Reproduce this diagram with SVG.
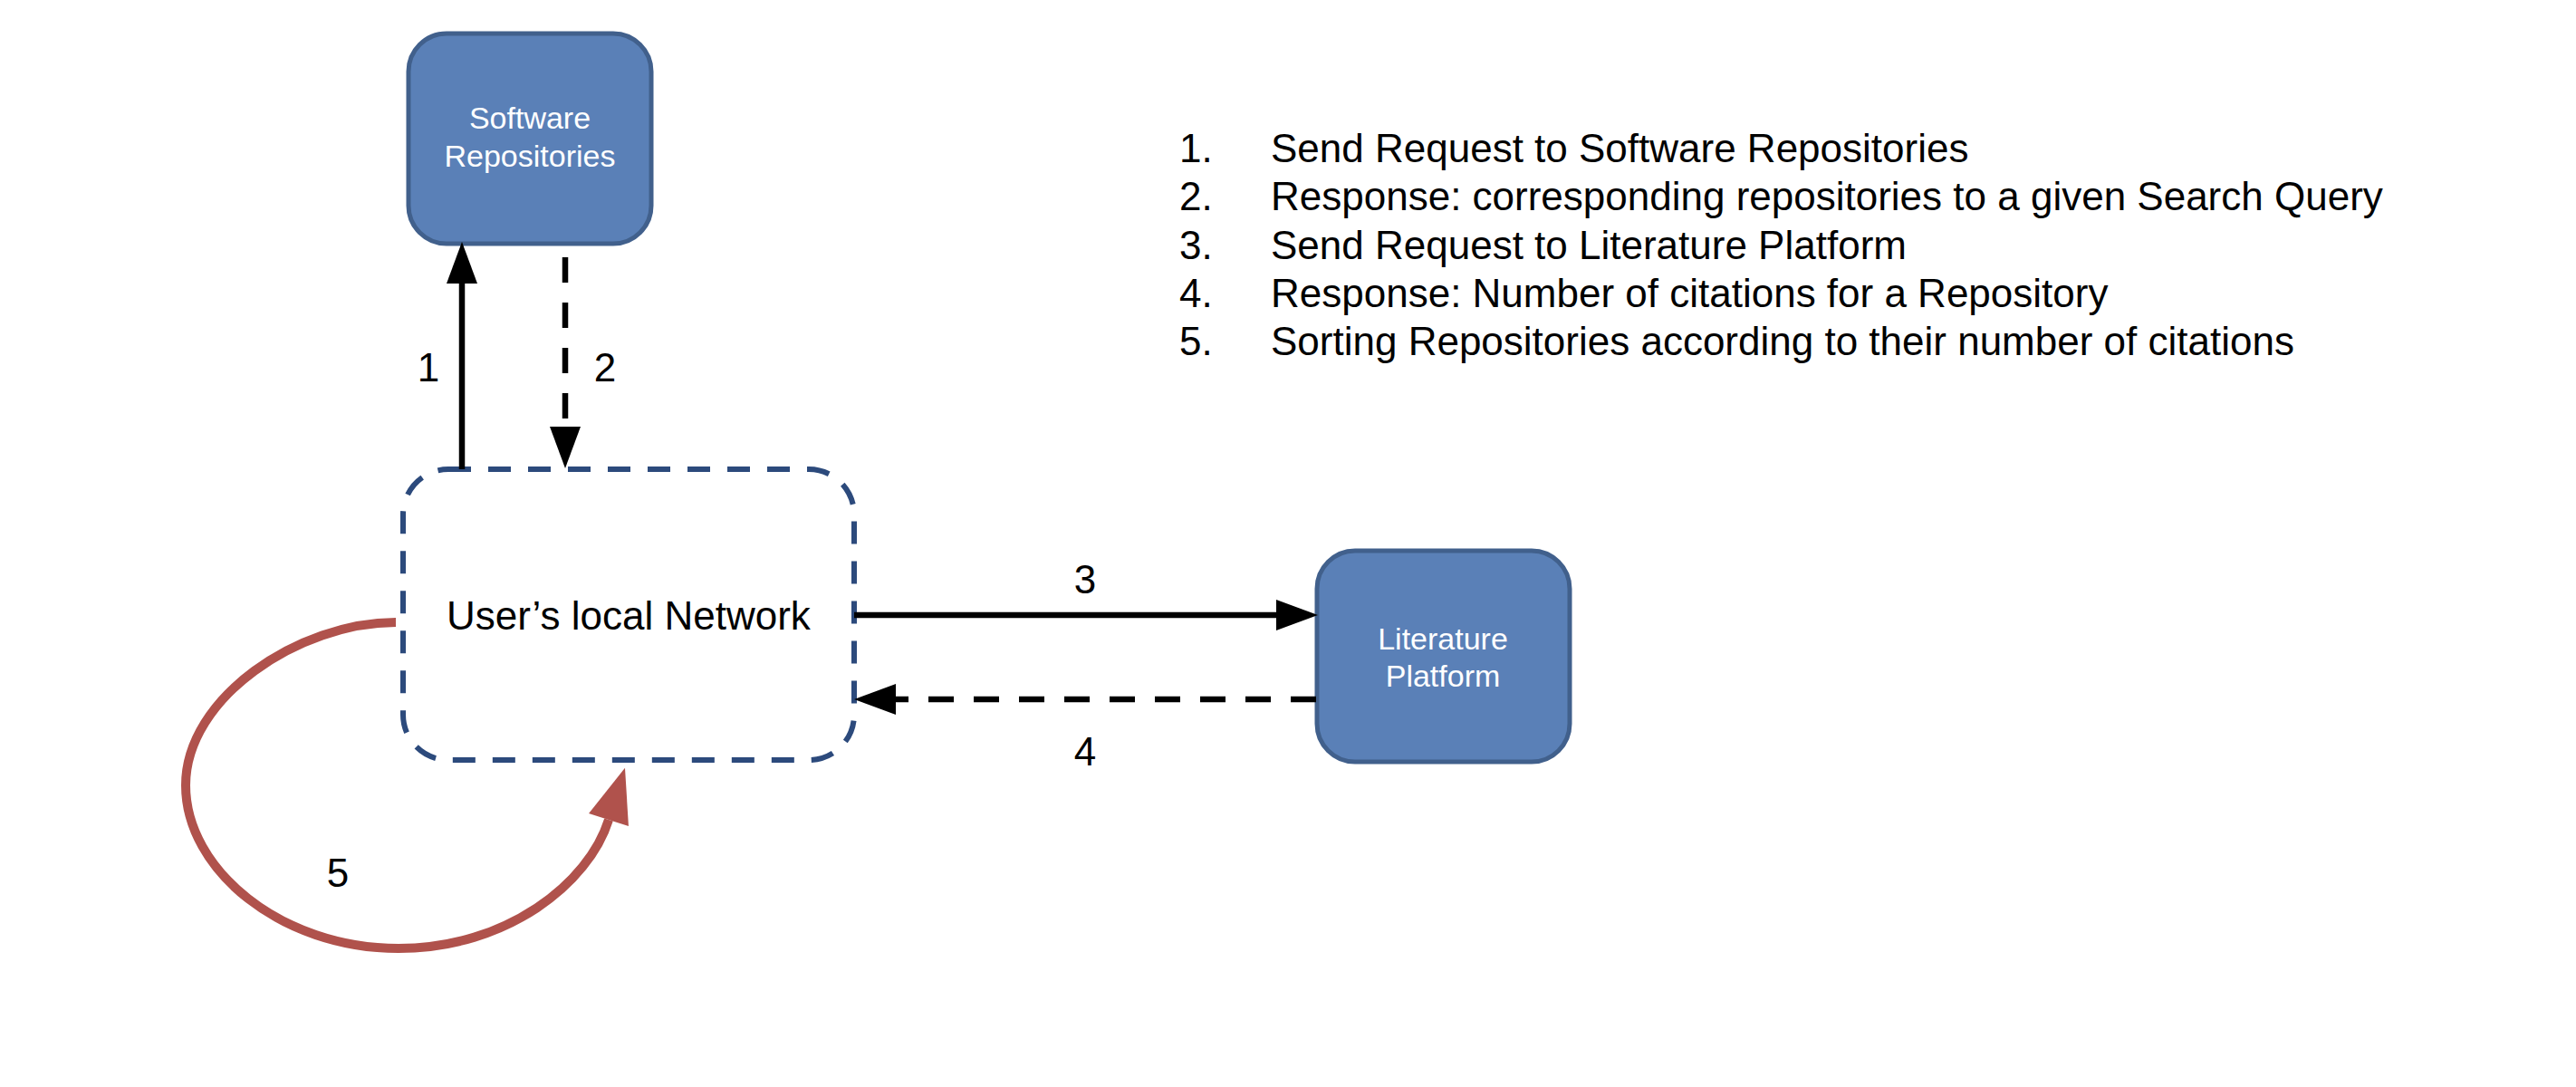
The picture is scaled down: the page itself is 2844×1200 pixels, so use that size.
<svg xmlns="http://www.w3.org/2000/svg" width="2844" height="1200" viewBox="0 0 2844 1200">
<style>
.box{fill:#5a80b7;stroke:#41608c;stroke-width:5}
.boxtxt{font-family:"Liberation Sans",Arial,sans-serif;font-size:34px;fill:#ffffff;text-anchor:middle}
.net{fill:none;stroke:#2c4a7c;stroke-width:6;stroke-dasharray:25 19}
.txt{font-family:"Liberation Sans",Arial,sans-serif;font-size:44px;fill:#000000}
.lbl{font-family:"Liberation Sans",Arial,sans-serif;font-size:44px;fill:#000000;text-anchor:middle}
.solid{fill:none;stroke:#000000;stroke-width:6.5}
.dash{fill:none;stroke:#000000;stroke-width:6.5;stroke-dasharray:28 22}
.loop{fill:none;stroke:#b0524c;stroke-width:10}
</style>
<defs>
<marker id="ah" markerUnits="userSpaceOnUse" markerWidth="46" markerHeight="34" viewBox="0 0 46 34" refX="0" refY="17" orient="auto" overflow="visible">
<path d="M0,0 L46,17 L0,34 Z" fill="#000000"/>
</marker>
<marker id="ahr" markerUnits="userSpaceOnUse" markerWidth="60" markerHeight="46" viewBox="0 0 60 46" refX="0" refY="23" orient="auto" overflow="visible">
<path d="M0,0 L60,23 L0,46 Z" fill="#b0524c"/>
</marker>
</defs>
<rect width="2844" height="1200" fill="#ffffff"/>
<g id="software-repositories">
<rect class="box" x="451" y="37" width="268" height="232" rx="42"/>
<text class="boxtxt" x="585" y="142">Software</text>
<text class="boxtxt" x="585" y="184">Repositories</text>
</g>
<g id="literature-platform">
<rect class="box" x="1454" y="608" width="279" height="233" rx="42"/>
<text class="boxtxt" x="1593" y="717">Literature</text>
<text class="boxtxt" x="1593" y="758">Platform</text>
</g>
<g id="users-local-network">
<rect class="net" x="445" y="518" width="498" height="321" rx="50"/>
<text class="txt" x="493" y="695">User’s local Network</text>
</g>
<g id="connectors">
<line class="solid" x1="510" y1="518" x2="510" y2="313" marker-end="url(#ah)"/>
<line class="dash" x1="624" y1="284" x2="624" y2="471" marker-end="url(#ah)"/>
<line class="solid" x1="943" y1="679" x2="1409" y2="679" marker-end="url(#ah)"/>
<line class="dash" x1="1453" y1="772" x2="989" y2="772" marker-end="url(#ah)"/>
<path class="loop" d="M437,687 C330,687 205,770 205,867 C205,960 310,1047 440,1047 C560,1047 650,975 672,905" marker-end="url(#ahr)"/>
<text class="lbl" x="473" y="421">1</text>
<text class="lbl" x="668" y="421">2</text>
<text class="lbl" x="1198" y="655">3</text>
<text class="lbl" x="1198" y="845">4</text>
<text class="lbl" x="373" y="979">5</text>
</g>
<g id="legend">
<text class="txt" x="1302" y="179">1.</text>
<text class="txt" x="1403" y="179">Send Request to Software Repositories</text>
<text class="txt" x="1302" y="232">2.</text>
<text class="txt" x="1403" y="232">Response: corresponding repositories to a given Search Query</text>
<text class="txt" x="1302" y="286">3.</text>
<text class="txt" x="1403" y="286">Send Request to Literature Platform</text>
<text class="txt" x="1302" y="339">4.</text>
<text class="txt" x="1403" y="339">Response: Number of citations for a Repository</text>
<text class="txt" x="1302" y="392">5.</text>
<text class="txt" x="1403" y="392">Sorting Repositories according to their number of citations</text>
</g>
</svg>
